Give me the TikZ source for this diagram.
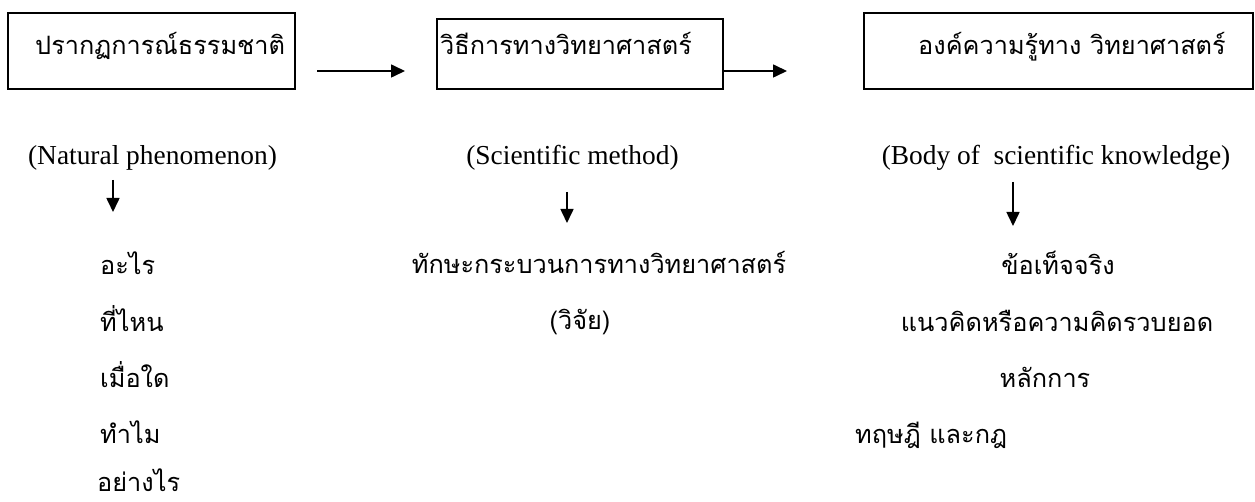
\documentclass[tikz,border=0pt]{standalone}
\usepackage{fontspec}
\setmainfont{Liberation Serif}
\newfontfamily\thaifont[Script=Thai]{Loma}
\usetikzlibrary{arrows.meta}
\tikzset{
  box/.style={draw, line width=1.6pt, minimum width=#1, inner sep=0pt},
  th/.style={font=\thaifont\fontsize{25.3}{30}\selectfont, inner sep=0pt},
  en/.style={font=\fontsize{27.4}{32}\selectfont, inner sep=0pt},
  arr/.style={line width=1.6pt, -{Triangle[length=14pt,width=13pt]}},
}
\begin{document}
\begin{tikzpicture}[x=1pt,y=-1pt]
\useasboundingbox (0,0) rectangle (1255,502);
% boxes
\node[box=287pt, minimum height=76pt] (b1) at (151.5,51) {};
\node[box=286pt, minimum height=70pt] (b2) at (580,54) {};
\node[box=389pt, minimum height=76pt] (b3) at (1058.5,51) {};
\node[th, anchor=base west] (t1) at (35,55) {ปรากฏการณ์ธรรมชาติ};
\node[th, anchor=base west] (t2) at (440,55) {วิธีการทางวิทยาศาสตร์};
\node[th, anchor=base west] (t3) at (918,55) {องค์ความรู้ทาง วิทยาศาสตร์};
% horizontal arrows
\coordinate (a1s) at (317,71);
\coordinate (a1e) at (405,71);
\draw[arr] (a1s) -- (a1e);
\coordinate (a2e) at (787,71);
\draw[arr] (b2.east |- a2e) -- (a2e);
% English labels
\node[en, anchor=base] (e1) at (152.5,165) {(Natural phenomenon)};
\node[en, anchor=base] (e2) at (572.5,165) {(Scientific method)};
\node[en, anchor=base] (e3) at (1056,165) {(Body of\ \ scientific knowledge)};
% down arrows
\coordinate (d1s) at (113,180); \coordinate (d1e) at (113,212);
\coordinate (d2s) at (567,192); \coordinate (d2e) at (567,223);
\coordinate (d3s) at (1013,182); \coordinate (d3e) at (1013,226);
\draw[arr] (d1s) -- (d1e);
\draw[arr] (d2s) -- (d2e);
\draw[arr] (d3s) -- (d3e);
% left column
\node[th, anchor=base west] (l1) at (100,275) {อะไร};
\node[th, anchor=base west] (l2) at (100,332) {ที่ไหน};
\node[th, anchor=base west] (l3) at (100,388) {เมื่อใด};
\node[th, anchor=base west] (l4) at (100,443) {ทำไม};
\node[th, anchor=base west] (l5) at (97,491) {อย่างไร};
% middle column
\node[th, anchor=base] (m1) at (599,274) {ทักษะกระบวนการทางวิทยาศาสตร์};
\node[th, anchor=base] (m2) at (580,330) {(วิจัย)};
% right column
\node[th, anchor=base] (r1) at (1058,275) {ข้อเท็จจริง};
\node[th, anchor=base] (r2) at (1057,332) {แนวคิดหรือความคิดรวบยอด};
\node[th, anchor=base] (r3) at (1045,388) {หลักการ};
\node[th, anchor=base west] (r4) at (855,443) {ทฤษฎี และกฎ};
\end{tikzpicture}
\end{document}
